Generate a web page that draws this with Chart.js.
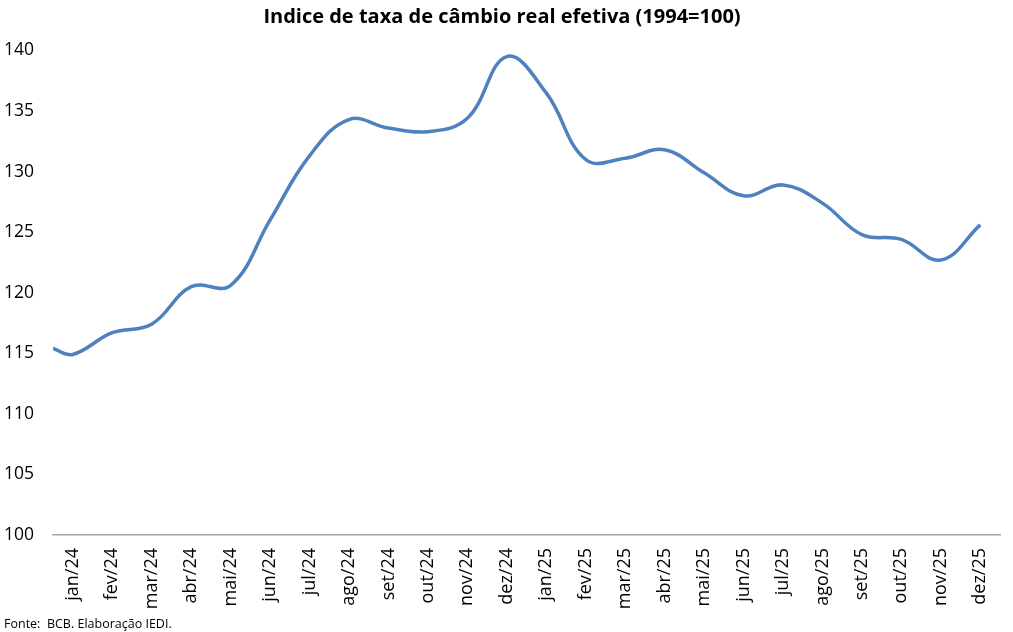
<!DOCTYPE html>
<html>
<head>
<meta charset="utf-8">
<script src="https://cdn.jsdelivr.net/npm/chart.js@4"></script>
<style>
  body { margin: 0; background: #fff; }
  #wrap { width: 1013px; height: 632px; position: relative; }
</style>
</head>
<body>
<div id="wrap"><canvas id="cambio"></canvas></div>
<script>
const monthLabels = ["jan/24", "fev/24", "mar/24", "abr/24", "mai/24", "jun/24", "jul/24", "ago/24", "set/24", "out/24", "nov/24", "dez/24",
  "jan/25", "fev/25", "mar/25", "abr/25", "mai/25", "jun/25", "jul/25", "ago/25", "set/25", "out/25", "nov/25", "dez/25"];
// position on the axis (0 = jan/24); the series starts half a month before the first label
const positions = [-0.5, 0, 1, 2, 3, 4, 5, 6, 7, 8, 9, 10, 11, 12, 13, 14, 15, 16, 17, 18, 19, 20, 21, 22, 23];
const indexValues = [115.4, 114.9, 116.7, 117.4, 120.5, 120.6, 126.0, 131.3, 134.3, 133.6, 133.3, 134.4, 139.5,
  136.5, 131.0, 131.1, 131.8, 129.9, 128.0, 128.9, 127.4, 124.8, 124.4, 122.7, 125.6];
const yTicks = { min: 100, max: 140, step: 5 };

const FONT = "'Open Sans', 'Noto Sans', sans-serif";

const labelsPlugin = {
  id: "labelsPlugin",
  afterDraw(chart) {
    const ctx = chart.ctx;
    const xs = chart.scales.x;
    ctx.save();
    ctx.fillStyle = "#000";
    ctx.font = "18px " + FONT;
    ctx.textAlign = "right";
    ctx.textBaseline = "middle";
    monthLabels.forEach((lab, i) => {
      const px = xs.getPixelForValue(i);
      ctx.save();
      ctx.translate(px, chart.chartArea.bottom + 13);
      ctx.rotate(-Math.PI / 2);
      ctx.fillText(lab, 0, 0);
      ctx.restore();
    });
    ctx.font = "12.5px " + FONT;
    ctx.textAlign = "left";
    ctx.textBaseline = "middle";
    ctx.fillText("Fonte:  BCB. Elaboração IEDI.", 4, 624);
    ctx.restore();
  }
};

new Chart(document.getElementById("cambio"), {
  type: "line",
  data: {
    datasets: [{
      data: positions.map((p, i) => ({ x: p, y: indexValues[i] })),
      borderColor: "#4F81BD",
      borderWidth: 3.5,
      pointRadius: 0,
      tension: 0.4,
      fill: false
    }]
  },
  options: {
    responsive: true,
    maintainAspectRatio: false,
    animation: false,
    layout: { padding: { left: 4, right: 13, top: 0, bottom: 0 } },
    plugins: {
      legend: { display: false },
      tooltip: { enabled: false },
      title: {
        display: true,
        text: "Indice de taxa de câmbio real efetiva (1994=100)",
        color: "#000",
        font: { family: FONT, size: 20, weight: "bold" },
        padding: { top: 5, bottom: 21.5 }
      }
    },
    scales: {
      x: {
        type: "linear",
        min: -0.5,
        max: 23.5,
        ticks: { display: false },
        grid: { display: false },
        border: { display: true, color: "#a6a6a6", width: 1.5 },
        afterFit(scale) { scale.height = 97; }
      },
      y: {
        min: yTicks.min,
        max: yTicks.max,
        ticks: {
          stepSize: yTicks.step,
          color: "#000",
          crossAlign: "far",
          padding: 0,
          font: { family: FONT, size: 17.5 }
        },
        grid: { display: false },
        border: { display: false },
        afterFit(scale) { scale.width = 49; }
      }
    }
  },
  plugins: [labelsPlugin]
});
</script>
</body>
</html>
